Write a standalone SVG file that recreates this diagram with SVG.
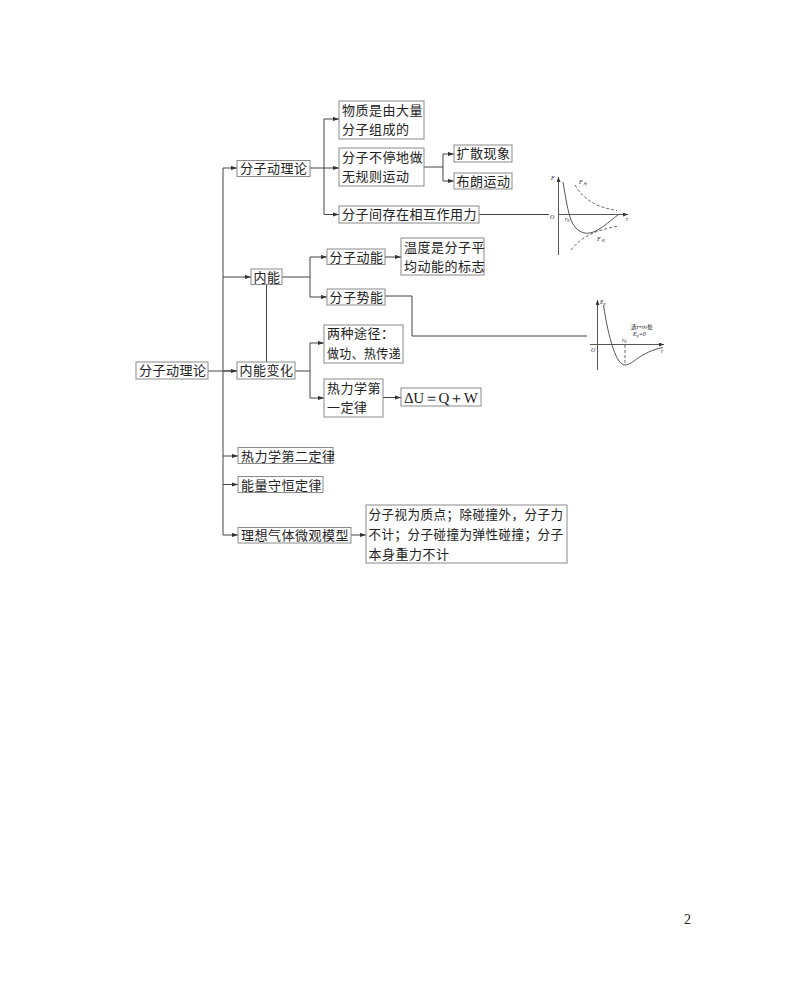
<svg xmlns="http://www.w3.org/2000/svg" width="800" height="992" viewBox="0 0 800 992">
<defs>
<marker id="ah" markerUnits="userSpaceOnUse" markerWidth="6" markerHeight="5" refX="6" refY="2.5" orient="auto">
<path d="M0,0.4 L6,2.5 L0,4.6 Z" fill="#333"/>
</marker>
<marker id="ax" markerUnits="userSpaceOnUse" markerWidth="5" markerHeight="4" refX="5" refY="2" orient="auto">
<path d="M0,0 L5,2 L0,4 Z" fill="#333"/>
</marker>
</defs>
<style>
.b{fill:#fff;stroke:#8a8a8a;stroke-width:1}
.t{font-family:"Noto Sans CJK SC","Noto Sans CJK JP",sans-serif;font-size:13px;letter-spacing:0.5px;fill:#222}
.c{fill:none;stroke:#444;stroke-width:1}
.a{fill:none;stroke:#444;stroke-width:1;marker-end:url(#ah)}
.g{fill:none;stroke:#444;stroke-width:0.9}
.d{fill:none;stroke:#444;stroke-width:0.8;stroke-dasharray:3 2}
.s{font-family:"Liberation Serif",serif;font-style:italic;font-size:6px;fill:#222}
</style>
<rect width="800" height="992" fill="#fff"/>

<g id="connectors">
<path class="c" d="M208,371 H237"/>
<path class="c" d="M223,168 V535"/>
<path class="a" d="M223,168 H237"/>
<path class="a" d="M223,277 H251"/>
<path class="a" d="M223,371 H237"/>
<path class="a" d="M223,456 H238"/>
<path class="a" d="M223,484.5 H238"/>
<path class="a" d="M223,535 H238"/>
<path class="c" d="M310,168 H324 M324,119 V214.5"/>
<path class="a" d="M324,119 H339"/>
<path class="a" d="M324,168 H339"/>
<path class="a" d="M324,214.5 H339"/>
<path class="c" d="M424,167 H443 M443,154 V181"/>
<path class="a" d="M443,154 H454"/>
<path class="a" d="M443,181 H454"/>
<path class="c" d="M479,214.5 H549"/>
<path class="c" d="M282,277 H310 M310,257 V297"/>
<path class="a" d="M310,257 H327"/>
<path class="a" d="M310,297 H327"/>
<path class="a" d="M385,257 H401"/>
<path class="c" d="M385,296 H412 V336 H587"/>
<path class="c" d="M266.5,284 V362"/>
<path class="c" d="M295,371 H310 M310,343 V398"/>
<path class="a" d="M310,343 H324"/>
<path class="a" d="M310,398 H324"/>
<path class="a" d="M383,397.5 H401"/>
<path class="a" d="M351,535 H366"/>
</g>

<g id="root"><rect class="b" x="136" y="362" width="72" height="17"/><text class="t" x="139" y="375">分子动理论</text></g>
<g id="n1"><rect class="b" x="237" y="160.5" width="73" height="16"/><text class="t" x="240" y="173">分子动理论</text></g>
<g id="n1a"><rect class="b" x="339" y="101" width="85" height="38"/><text class="t" x="342" y="114.5">物质是由大量</text><text class="t" x="342" y="133.5">分子组成的</text></g>
<g id="n1b"><rect class="b" x="339" y="148" width="85" height="38"/><text class="t" x="342" y="161.5">分子不停地做</text><text class="t" x="342" y="180.5">无规则运动</text></g>
<g id="n1b1"><rect class="b" x="454" y="145" width="58" height="17"/><text class="t" x="456.5" y="158">扩散现象</text></g>
<g id="n1b2"><rect class="b" x="454" y="173" width="58" height="16"/><text class="t" x="456.5" y="185.5">布朗运动</text></g>
<g id="n1c"><rect class="b" x="339" y="206" width="140" height="17"/><text class="t" x="342" y="219">分子间存在相互作用力</text></g>
<g id="n2"><rect class="b" x="251" y="269" width="31" height="15.5"/><text class="t" x="253.5" y="281.5">内能</text></g>
<g id="n2a"><rect class="b" x="327" y="249" width="58" height="15.5"/><text class="t" x="329.5" y="261.5">分子动能</text></g>
<g id="n2a1"><rect class="b" x="401" y="238" width="83" height="37"/><text class="t" x="404" y="251.5">温度是分子平</text><text class="t" x="404" y="270.5">均动能的标志</text></g>
<g id="n2b"><rect class="b" x="327" y="289" width="58" height="16"/><text class="t" x="329.5" y="301.5">分子势能</text></g>
<g id="n3"><rect class="b" x="237" y="362" width="58" height="17"/><text class="t" x="239.5" y="375">内能变化</text></g>
<g id="n3a"><rect class="b" x="324" y="325" width="79" height="38"/><text class="t" x="327" y="338">两种途径：</text><text class="t" x="327" y="357.5" textLength="74" lengthAdjust="spacingAndGlyphs">做功、热传递</text></g>
<g id="n3b"><rect class="b" x="324" y="379" width="59" height="38"/><text class="t" x="327" y="392.5">热力学第</text><text class="t" x="327" y="411.5">一定律</text></g>
<g id="n3b1"><rect class="b" x="401" y="388" width="80" height="18"/><text x="404" y="403" font-family="Liberation Serif, serif" font-size="15" fill="#222" textLength="74" lengthAdjust="spacing">ΔU＝Q＋W</text></g>
<g id="n4"><rect class="b" x="238" y="447.5" width="95" height="16"/><text class="t" x="241" y="460.5">热力学第二定律</text></g>
<g id="n5"><rect class="b" x="238" y="476.5" width="85" height="16"/><text class="t" x="241" y="489.5">能量守恒定律</text></g>
<g id="n6"><rect class="b" x="238" y="527.5" width="113" height="15.5"/><text class="t" x="241" y="540">理想气体微观模型</text></g>
<g id="n6a"><rect class="b" x="366" y="505" width="201" height="58"/><text class="t" x="368.5" y="519" textLength="195" lengthAdjust="spacingAndGlyphs">分子视为质点；除碰撞外，分子力</text><text class="t" x="368.5" y="539" textLength="195" lengthAdjust="spacingAndGlyphs">不计；分子碰撞为弹性碰撞；分子</text><text class="t" x="368.5" y="559">本身重力不计</text></g>

<g id="graph1">
<path class="g" d="M558.5,255 V177" marker-end="url(#ax)"/>
<path class="g" d="M558.5,214.5 H628" marker-end="url(#ax)"/>
<text class="s" x="551" y="180">F</text>
<text class="s" x="550" y="219">O</text>
<text class="s" x="626" y="221">r</text>
<text class="s" x="565" y="221">r<tspan font-size="4" dy="1">0</tspan></text>
<path class="g" d="M563,182 C566,200 568,212 571,220 C576,232 584,234 590,233 C600,231 608,222 618,215"/>
<path class="d" d="M575,185 C584,200 596,207 617,210.5"/>
<path class="d" d="M571,250 C582,236 596,230 619,226"/>
<text class="s" x="579" y="184">F<tspan font-size="4" dy="1">斥</tspan></text>
<text class="s" x="597" y="241">F<tspan font-size="4" dy="1">引</tspan></text>
</g>

<g id="graph2">
<path class="g" d="M597.5,370 V300" marker-end="url(#ax)"/>
<path class="g" d="M590,344.5 H664" marker-end="url(#ax)"/>
<text class="s" x="600" y="304">E<tspan font-size="4" dy="1">p</tspan></text>
<text class="s" x="591" y="352">O</text>
<text class="s" x="661" y="353">r</text>
<text class="s" x="622" y="342">r<tspan font-size="4" dy="1">0</tspan></text>
<path class="g" d="M603.5,305 C606,322 609,336 613,348 C617,360 621,365 625,365 C633,365 640,352 663,347.5"/>
<path class="d" d="M625,345 V365"/>
<text x="631" y="329" font-family="Noto Sans CJK SC, sans-serif" font-size="5.5" fill="#222">选r=∞处</text>
<text class="s" x="633" y="336">E<tspan font-size="4" dy="1">p</tspan><tspan dy="-1">=0</tspan></text>
</g>

<text x="684" y="924" font-family="Liberation Serif, serif" font-size="14" fill="#222">2</text>
</svg>
